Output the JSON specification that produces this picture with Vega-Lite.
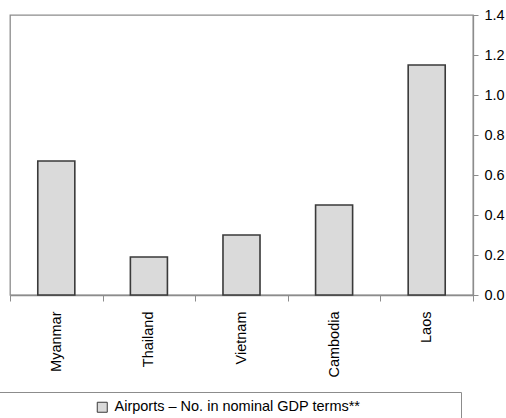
{
  "$schema": "https://vega.github.io/schema/vega-lite/v6.json",
  "width": 463,
  "height": 280,
  "autosize": {"type": "none"},
  "padding": {"left": 10, "top": 15, "right": 33, "bottom": 123},
  "background": "white",
  "config": {
    "font": "Liberation Sans",
    "view": {"stroke": "#8c8c8c", "strokeWidth": 1.3},
    "axis": {
      "domainColor": "#8c8c8c",
      "domainWidth": 1.3,
      "tickColor": "#8c8c8c",
      "tickWidth": 1,
      "grid": false,
      "labelColor": "#000000",
      "labelFont": "Liberation Sans",
      "labelFontSize": 14.5
    }
  },
  "data": {
    "values": [
      {"country": "Myanmar", "value": 0.67},
      {"country": "Thailand", "value": 0.19},
      {"country": "Vietnam", "value": 0.30},
      {"country": "Cambodia", "value": 0.45},
      {"country": "Laos", "value": 1.15}
    ]
  },
  "mark": {"type": "bar", "stroke": "#3a3a3a", "strokeWidth": 1.6, "width": {"band": 0.4}},
  "encoding": {
    "x": {
      "field": "country",
      "type": "nominal",
      "sort": null,
      "scale": {"paddingInner": 0, "paddingOuter": 0},
      "axis": {
        "title": null,
        "labelAngle": -90,
        "tickBand": "extent",
        "tickSize": 6,
        "labelPadding": 10
      }
    },
    "y": {
      "field": "value",
      "type": "quantitative",
      "scale": {"domain": [0, 1.4], "nice": false},
      "axis": {
        "orient": "right",
        "title": null,
        "values": [0, 0.2, 0.4, 0.6, 0.8, 1.0, 1.2, 1.4],
        "format": ".1f",
        "tickSize": 5,
        "labelPadding": 6
      }
    },
    "fill": {
      "field": "series",
      "type": "nominal",
      "datum": "Airports – No. in nominal GDP terms**",
      "scale": {"range": ["#dadada"]},
      "legend": {
        "orient": "none",
        "legendX": -11,
        "legendY": 377,
        "title": " ",
        "titleOrient": "right",
        "titlePadding": 93,
        "padding": 8,
        "strokeColor": "#8c8c8c",
        "symbolType": "square",
        "symbolSize": 100,
        "symbolStrokeColor": "#3a3a3a",
        "symbolStrokeWidth": 1,
        "symbolOffset": 88,
        "labelOffset": 5,
        "labelFontSize": 14.5,
        "labelColor": "#000000",
        "labelLimit": 0
      }
    }
  }
}
